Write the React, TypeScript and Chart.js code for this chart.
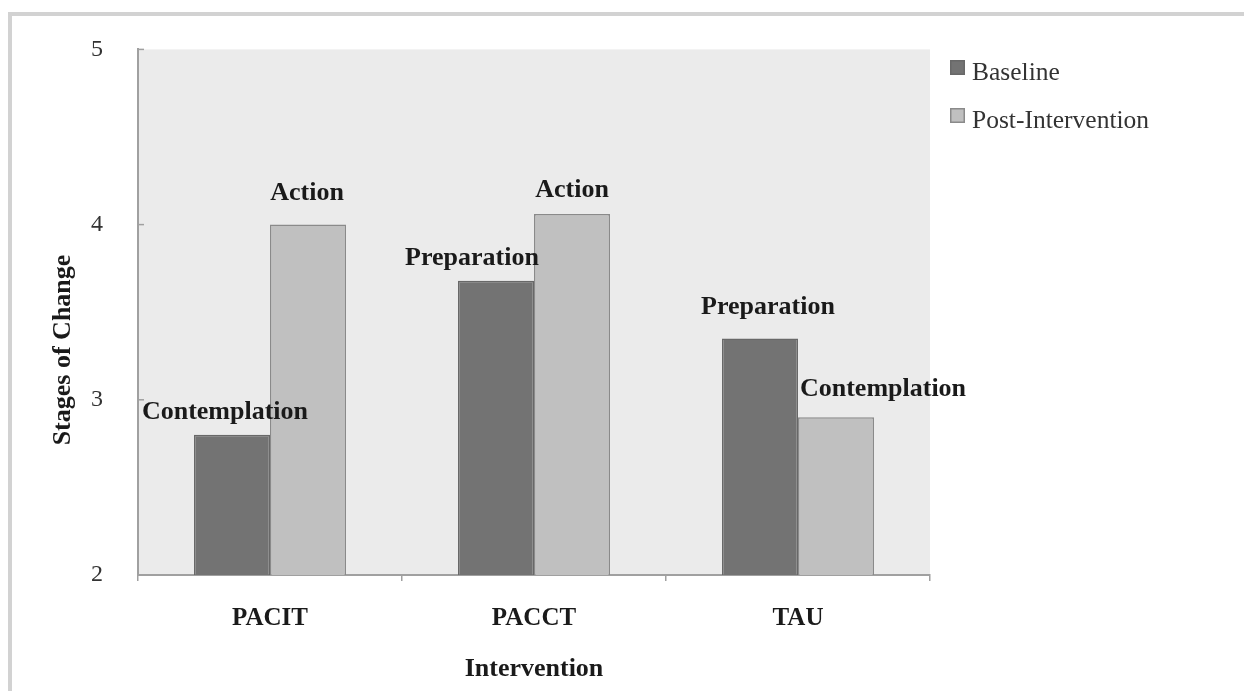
import React, { useEffect, useRef } from "react";
import { Chart, registerables } from "chart.js";

Chart.register(...registerables);

// ---- data ----
const categories = ["PACIT", "PACCT", "TAU"];
const seriesNames = ["Baseline", "Post-Intervention"];
const baselineValues = [2.8, 3.68, 3.35];
const postValues = [4.0, 4.06, 2.9];
const baselineStages = ["Contemplation", "Preparation", "Preparation"];
const postStages = ["Action", "Action", "Contemplation"];
const yMin = 2;
const yMax = 5;
const yStep = 1;
const xTitle = "Intervention";
const yTitle = "Stages of Change";

// ---- styles ----
const FONT = "'Liberation Serif', 'Times New Roman', serif";
const barFill = ["#737373", "#c0c0c0"];
const barBorder = ["#686868", "#8a8a8a"];
// per-label [dx, dy] offsets relative to bar top-centre
const labelOffsets = [
  [[-7, 23], [-24, 22], [8, 31]],
  [[-1, 31], [0, 24], [47, 28]],
];

const plotBgPlugin = {
  id: "plotBg",
  beforeDraw(chart: any) {
    const { ctx, chartArea: a } = chart;
    ctx.save();
    ctx.fillStyle = "#ebebeb";
    ctx.fillRect(a.left, a.top, a.right - a.left, a.bottom - a.top);
    ctx.restore();
  },
};

const stageLabelPlugin = {
  id: "stageLabels",
  afterDatasetsDraw(chart: any) {
    const { ctx } = chart;
    const stageSets = [baselineStages, postStages];
    ctx.save();
    ctx.font = `bold 26px ${FONT}`;
    ctx.fillStyle = "#1a1a1a";
    ctx.textAlign = "center";
    ctx.textBaseline = "middle";
    chart.data.datasets.forEach((_: any, di: number) => {
      const meta = chart.getDatasetMeta(di);
      meta.data.forEach((el: any, i: number) => {
        const [dx, dy] = labelOffsets[di][i];
        ctx.fillText(stageSets[di][i], el.x + dx, el.y - dy);
      });
    });
    ctx.restore();
  },
};

const legendAndTitlePlugin = {
  id: "legendAndTitle",
  afterDraw(chart: any) {
    const { ctx, chartArea: a } = chart;
    ctx.save();
    // y axis title
    ctx.translate(63, 350);
    ctx.rotate(-Math.PI / 2);
    ctx.font = `bold 26px ${FONT}`;
    ctx.fillStyle = "#1a1a1a";
    ctx.textAlign = "center";
    ctx.textBaseline = "middle";
    ctx.fillText(yTitle, 0, 0);
    ctx.restore();

    // y tick marks pointing inward
    const yScale = chart.scales.y;
    ctx.save();
    ctx.strokeStyle = "#a0a0a0";
    ctx.lineWidth = 1.5;
    yScale.ticks.forEach((t: any) => {
      const py = yScale.getPixelForValue(t.value);
      ctx.beginPath();
      ctx.moveTo(a.left, py);
      ctx.lineTo(a.left + 6, py);
      ctx.stroke();
    });
    ctx.restore();

    // legend
    ctx.save();
    ctx.font = `25.5px ${FONT}`;
    ctx.textAlign = "left";
    ctx.textBaseline = "alphabetic";
    chart.data.datasets.forEach((ds: any, i: number) => {
      const bx = a.right + 20;
      const by = 60 + i * 48;
      ctx.fillStyle = barFill[i];
      ctx.fillRect(bx, by, 15, 15);
      ctx.strokeStyle = barBorder[i];
      ctx.lineWidth = 1.5;
      ctx.strokeRect(bx + 0.75, by + 0.75, 13.5, 13.5);
      ctx.fillStyle = "#333333";
      ctx.fillText(ds.label, bx + 22, by + 20);
    });
    ctx.restore();
  },
};

export default function App() {
  const canvasRef = useRef<HTMLCanvasElement | null>(null);

  useEffect(() => {
    if (!canvasRef.current) return;
    const chart = new Chart(canvasRef.current, {
      type: "bar",
      data: {
        labels: categories,
        datasets: [
          {
            label: seriesNames[0],
            data: baselineValues,
            backgroundColor: barFill[0],
            borderColor: barBorder[0],
            borderWidth: 1.5,
            categoryPercentage: 0.576,
            barPercentage: 1,
          },
          {
            label: seriesNames[1],
            data: postValues,
            backgroundColor: barFill[1],
            borderColor: barBorder[1],
            borderWidth: 1.5,
            categoryPercentage: 0.576,
            barPercentage: 1,
          },
        ],
      },
      options: {
        responsive: false,
        animation: false,
        layout: { padding: { left: 0, right: 314, top: 48, bottom: 0 } },
        plugins: {
          legend: { display: false },
          title: { display: false },
          tooltip: { enabled: false },
        },
        scales: {
          x: {
            grid: {
              display: true,
              drawOnChartArea: false,
              drawTicks: true,
              tickLength: 6,
              color: "#a0a0a0",
              lineWidth: 1.5,
              offset: true,
            },
            border: { display: true, color: "#a0a0a0", width: 2 },
            ticks: {
              padding: 23,
              color: "#1a1a1a",
              font: { family: FONT, size: 25, weight: "bold" },
            },
            title: {
              display: true,
              text: xTitle,
              color: "#1a1a1a",
              font: { family: FONT, size: 26, weight: "bold" },
              padding: { top: 0, bottom: 6 },
            },
            afterFit(scale: any) {
              scale.height = 116;
            },
          },
          y: {
            min: yMin,
            max: yMax,
            grid: { display: true, drawOnChartArea: false, drawTicks: false },
            border: { display: true, color: "#a0a0a0", width: 2 },
            ticks: {
              stepSize: yStep,
              padding: 35,
              color: "#333333",
              font: { family: FONT, size: 24 },
            },
            afterFit(scale: any) {
              scale.width = 138;
            },
          },
        },
      },
      plugins: [plotBgPlugin, stageLabelPlugin, legendAndTitlePlugin],
    } as any);
    return () => chart.destroy();
  }, []);

  return (
    <div
      style={{
        position: "absolute",
        left: 0,
        top: 0,
        width: 1244,
        height: 691,
        overflow: "hidden",
        background: "#ffffff",
      }}
    >
      <div
        style={{
          position: "absolute",
          left: 8,
          top: 12,
          width: 1400,
          height: 1000,
          border: "4px solid #d2d2d2",
          boxSizing: "border-box",
        }}
      />
      <canvas
        ref={canvasRef}
        width={1244}
        height={691}
        style={{ position: "absolute", left: 0, top: 0, width: 1244, height: 691 }}
      />
    </div>
  );
}
